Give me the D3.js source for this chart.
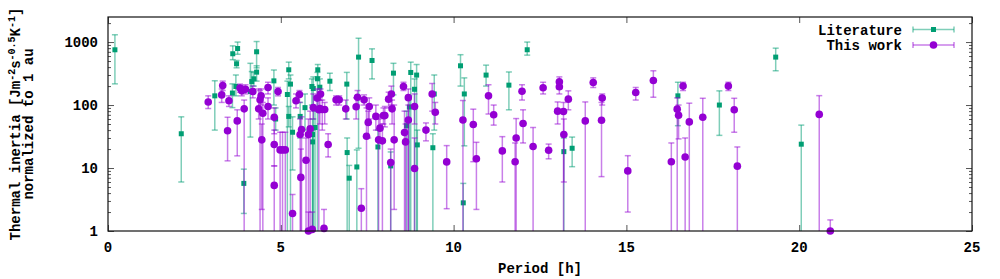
<!DOCTYPE html>
<html>
<head>
<meta charset="utf-8">
<script src="https://cdn.jsdelivr.net/npm/d3@7"></script>
<style>
  body { margin: 0; background: #fff; }
  text { font-family: "Liberation Mono", "DejaVu Sans Mono", monospace; font-weight: bold; fill: #000; }
</style>
</head>
<body>
<div id="chart"></div>
<script>
// rows: [period h, thermal inertia, lower error, upper error]
var literature = [
  [0.2, 754, 217, 1306], [2.12, 35, 6, 65], [3.09, 140, 40, 243], [3.61, 652, 525, 870],
  [3.75, 790, 640, 1000], [3.72, 452, 390, 510], [3.60, 155, 91, 217], [3.70, 197, 140, 300],
  [3.93, 5.7, 1.9, 9.6], [4.12, 164, 31, 460], [4.16, 236, 175, 340], [4.22, 261, 200, 330],
  [4.30, 333, 240, 420], [4.30, 701, 390, 1020], [4.80, 242, 100, 360], [4.85, 60, 40, 90],
  [5.23, 363, 260, 480], [5.19, 147, 0.5, 240], [5.28, 215, 0.5, 300], [5.23, 66, 45, 95],
  [5.34, 37, 9.3, 65], [5.56, 66, 30, 110], [5.70, 91, 40, 150], [5.90, 197, 100, 260],
  [5.94, 183, 0.5, 280], [6.07, 363, 280, 440], [6.06, 261, 0.5, 330], [6.13, 192, 140, 260],
  [5.99, 44, 0.5, 80], [5.92, 34, 0.5, 60], [5.92, 26, 0.5, 40], [6.42, 239, 170, 320],
  [6.91, 215, 60, 330], [6.92, 17.6, 0.5, 30], [6.98, 6.9, 0.5, 11], [7.25, 577, 20.6, 1150],
  [7.20, 10.4, 0.5, 19.4], [7.64, 510, 260, 780], [7.81, 21.6, 0.5, 40], [8.26, 321, 145, 460],
  [8.18, 10.8, 0.5, 18], [8.76, 329, 0.5, 480], [8.93, 299, 0.5, 440], [8.87, 178, 0.5, 260],
  [8.72, 93, 0.5, 140], [8.64, 47, 0.5, 80], [8.95, 23.3, 0.5, 40], [9.40, 21, 0.5, 35],
  [9.44, 150, 40, 300], [10.2, 420, 200, 630], [10.31, 150, 22.5, 270], [10.28, 2.8, 0.5, 5.7],
  [10.94, 299, 200, 430], [11.60, 207, 84, 335], [12.13, 755, 620, 1000], [13.19, 18.2, 0.5, 30],
  [13.43, 20.6, 10.5, 31], [16.49, 140, 47, 230], [17.69, 100, 33, 168], [19.32, 577, 350, 800],
  [20.06, 23.9, 0.5, 48]
];

var thisWork = [
  [2.90, 112, 88, 140], [3.29, 145, 110, 180], [3.32, 204, 170, 240], [3.46, 39, 13, 64],
  [3.50, 117, 95, 140], [3.74, 56, 15.6, 84], [3.82, 186, 160, 215], [3.87, 168, 140, 200],
  [3.98, 178, 150, 210], [3.94, 87, 0.5, 120], [4.19, 164, 130, 200], [4.36, 87, 60, 180],
  [4.40, 121, 0.5, 170], [4.43, 140, 100, 180], [4.45, 28, 2.2, 50], [4.48, 74, 0.5, 110],
  [4.63, 95, 60, 130], [4.63, 190, 150, 230], [4.81, 64, 35, 90], [4.81, 23.6, 10.8, 40],
  [4.81, 5.3, 0.5, 10.8], [4.92, 164, 140, 190], [4.98, 19.4, 0.5, 37], [5.05, 19.4, 0.5, 37],
  [5.13, 19.4, 0.5, 37], [5.44, 117, 90, 150], [5.54, 147, 110, 170], [5.34, 1.9, 0.5, 3.8],
  [5.56, 34, 0.5, 60], [5.60, 41, 0.5, 65], [5.58, 7.1, 0.5, 20], [5.73, 13.3, 0.5, 30],
  [5.80, 34, 0.5, 60], [5.85, 42, 0.5, 80], [5.80, 1.0, 0.5, 2], [5.91, 1.06, 0.5, 2],
  [5.94, 91, 60, 150], [6.05, 129, 80, 180], [6.10, 84, 0.5, 120], [6.15, 150, 120, 180],
  [6.13, 88, 50, 130], [6.20, 85, 40, 120], [6.27, 85, 50, 110], [6.25, 1.1, 0.5, 2.2],
  [6.37, 23.6, 15, 35], [6.60, 121, 100, 140], [6.69, 121, 100, 140], [6.88, 87, 60, 120],
  [7.18, 94, 60, 130], [7.22, 133, 100, 170], [7.41, 121, 100, 145], [7.33, 2.3, 0.5, 4.7],
  [7.48, 32, 0.5, 90], [7.53, 53, 30, 80], [7.56, 95, 60, 130], [7.75, 66, 40, 100],
  [7.87, 43, 25, 70], [7.83, 28, 0.5, 60], [7.94, 27, 0.5, 50], [7.97, 68, 50, 90],
  [8.01, 68, 45, 95], [8.12, 124, 90, 160], [8.20, 150, 100, 200], [8.22, 87, 50, 120],
  [8.18, 12.2, 0.5, 20], [8.28, 28, 2.2, 100], [8.55, 197, 170, 230], [8.69, 131, 0.5, 180],
  [8.69, 58, 0.5, 100], [8.58, 36.6, 0.5, 80], [8.61, 26, 0.5, 50], [8.87, 95, 50, 150],
  [8.87, 9.8, 0.5, 30], [9.38, 150, 80, 220], [9.47, 77, 50, 110], [9.80, 12.5, 2.26, 22.7],
  [9.20, 40, 27, 52], [10.27, 58, 0.5, 118], [10.57, 49, 12.6, 86], [10.66, 14, 2.2, 25.6],
  [11.01, 140, 72, 210], [11.16, 70, 48, 100], [11.41, 18.7, 6, 31.5], [11.81, 30, 0.5, 61],
  [11.78, 12.6, 0.5, 25], [11.98, 166, 120, 210], [12.01, 51, 25, 84], [12.30, 22, 0.5, 44],
  [12.59, 188, 150, 230], [12.75, 19.2, 14, 24], [13.06, 234, 180, 280], [13.06, 195, 150, 240],
  [13.01, 80, 50, 112], [13.18, 79, 0.5, 110], [13.19, 34, 6, 60], [13.32, 124, 84, 168],
  [13.81, 56, 0.5, 112], [14.04, 228, 190, 270], [14.30, 129, 100, 150], [14.28, 57.5, 7.3, 110],
  [15.04, 9, 2, 15.7], [15.27, 158, 120, 190], [15.78, 245, 133, 350], [16.30, 12.6, 0.5, 25],
  [16.47, 86, 0.5, 130], [16.51, 69, 29, 100], [16.64, 200, 170, 230], [16.70, 15, 0.5, 30],
  [16.82, 54, 0.5, 107], [17.21, 64, 0.5, 128], [17.95, 200, 170, 230], [18.12, 84, 37, 128],
  [18.21, 10.7, 0.5, 21.6], [20.58, 71, 0.5, 141], [20.9, 1.0, 0.5, 1.5]
];

var xTicks = [0, 5, 10, 15, 20, 25]
var yTicks = [1, 10, 100, 1000]
var seriesNames = ['Literature', 'This work']
var seriesColors = ['#009e73', '#9400d3']

var width = 1000, height = 279
var margin = {top: 17, right: 28, bottom: 48, left: 108}

var svg = d3.select('#chart')
  .append('svg')
  .attr('width', width)
  .attr('height', height)

var xScale = d3.scaleLinear()
  .domain([0, 25])
  .range([margin.left, width - margin.right])

var yScale = d3.scaleLog()
  .domain([1, 2500])
  .range([height - margin.bottom, margin.top])

svg.append('clipPath')
  .attr('id', 'plot-clip')
  .append('rect')
  .attr('x', margin.left)
  .attr('y', margin.top)
  .attr('width', width - margin.left - margin.right)
  .attr('height', height - margin.top - margin.bottom)

// minor log ticks 2..9 in each decade
var minorTicks = []
yTicks.forEach(function(t) {
  for (var k = 2; k <= 9; k++) {
    if (t * k <= 2500) minorTicks.push(t * k)
  }
})

// Y axes, ticks pointing inward on both sides
var yLeft = d3.axisRight(yScale).tickValues(yTicks).tickSize(6).tickFormat('')
var yLeftMinor = d3.axisRight(yScale).tickValues(minorTicks).tickSize(3).tickFormat('')
var yRight = d3.axisLeft(yScale).tickValues(yTicks).tickSize(6).tickFormat('')
var yRightMinor = d3.axisLeft(yScale).tickValues(minorTicks).tickSize(3).tickFormat('')

;[[yLeft, margin.left], [yLeftMinor, margin.left], [yRight, width - margin.right], [yRightMinor, width - margin.right]]
  .forEach(function(a) {
    svg.append('g')
      .attr('class', 'y-axis')
      .attr('transform', `translate(${a[1]},0)`)
      .call(a[0])
      .call(g => g.select('.domain').remove())
      .selectAll('line').attr('stroke', '#555')
  })

var xBottom = d3.axisTop(xScale).tickValues(xTicks).tickSize(6).tickFormat('')
var xTop = d3.axisBottom(xScale).tickValues(xTicks).tickSize(6).tickFormat('')

svg.append('g')
  .attr('transform', `translate(0,${height - margin.bottom})`)
  .call(xBottom)
  .call(g => g.select('.domain').remove())
  .selectAll('line').attr('stroke', '#555')

svg.append('g')
  .attr('transform', `translate(0,${margin.top})`)
  .call(xTop)
  .call(g => g.select('.domain').remove())
  .selectAll('line').attr('stroke', '#555')

// tick labels
svg.selectAll('.x-label-tick')
  .data(xTicks)
  .enter()
  .append('text')
  .attr('class', 'x-label-tick')
  .attr('x', d => xScale(d))
  .attr('y', height - margin.bottom + 21)
  .attr('text-anchor', 'middle')
  .style('font-size', '14px')
  .text(d => d)

svg.selectAll('.y-label-tick')
  .data(yTicks)
  .enter()
  .append('text')
  .attr('class', 'y-label-tick')
  .attr('x', margin.left - 10)
  .attr('y', d => yScale(d) + 5)
  .attr('text-anchor', 'end')
  .style('font-size', '14px')
  .text(d => d)

// error bars + points
function drawSeries(data, color, shape) {
  var g = svg.append('g')
  var bars = g.append('g').attr('clip-path', 'url(#plot-clip)')
  bars.selectAll('line.bar')
    .data(data)
    .enter()
    .append('line')
    .attr('class', 'bar')
    .attr('x1', d => xScale(d[0]))
    .attr('x2', d => xScale(d[0]))
    .attr('y1', d => yScale(Math.max(d[2], 0.5)))
    .attr('y2', d => yScale(d[3]))
    .attr('stroke', color)
    .attr('stroke-opacity', 0.5)
    .attr('stroke-width', 1.5)

  ;[2, 3].forEach(function(i) {
    bars.selectAll('line.cap' + i)
      .data(data.filter(d => d[i] >= 1))
      .enter()
      .append('line')
      .attr('class', 'cap' + i)
      .attr('x1', d => xScale(d[0]) - 3)
      .attr('x2', d => xScale(d[0]) + 3)
      .attr('y1', d => yScale(d[i]))
      .attr('y2', d => yScale(d[i]))
      .attr('stroke', color)
      .attr('stroke-opacity', 0.5)
      .attr('stroke-width', 1.5)
  })

  if (shape === 'square') {
    g.selectAll('rect.pt')
      .data(data)
      .enter()
      .append('rect')
      .attr('class', 'pt')
      .attr('x', d => xScale(d[0]) - 2.5)
      .attr('y', d => yScale(d[1]) - 2.5)
      .attr('width', 5)
      .attr('height', 5)
      .attr('fill', color)
  } else {
    g.selectAll('circle.pt')
      .data(data)
      .enter()
      .append('circle')
      .attr('class', 'pt')
      .attr('cx', d => xScale(d[0]))
      .attr('cy', d => yScale(d[1]))
      .attr('r', 3.8)
      .attr('fill', color)
  }
}

drawSeries(literature, seriesColors[0], 'square')
drawSeries(thisWork, seriesColors[1], 'circle')

// border
svg.append('rect')
  .attr('x', margin.left)
  .attr('y', margin.top)
  .attr('width', width - margin.left - margin.right)
  .attr('height', height - margin.top - margin.bottom)
  .attr('fill', 'none')
  .attr('stroke', '#111')
  .attr('stroke-width', 1.2)

// legend
var legend = svg.append('g').attr('class', 'legend')
seriesNames.forEach(function(name, i) {
  var ly = 29.5 + i * 15.5
  var col = seriesColors[i]
  legend.append('text')
    .attr('x', 902)
    .attr('y', ly + 5)
    .attr('text-anchor', 'end')
    .style('font-size', '14px')
    .text(name)
  legend.append('line')
    .attr('x1', 913).attr('x2', 954).attr('y1', ly).attr('y2', ly)
    .attr('stroke', col).attr('stroke-opacity', 0.5).attr('stroke-width', 1.5)
  ;[913, 954].forEach(function(cx) {
    legend.append('line')
      .attr('x1', cx).attr('x2', cx).attr('y1', ly - 3).attr('y2', ly + 3)
      .attr('stroke', col).attr('stroke-opacity', 0.5).attr('stroke-width', 1.5)
  })
  if (i === 0) {
    legend.append('rect').attr('x', 931).attr('y', ly - 2.5).attr('width', 5).attr('height', 5).attr('fill', col)
  } else {
    legend.append('circle').attr('cx', 933.5).attr('cy', ly).attr('r', 3.8).attr('fill', col)
  }
})

// axis titles
svg.append('text')
  .attr('x', (margin.left + width - margin.right) / 2)
  .attr('y', 273)
  .attr('text-anchor', 'middle')
  .style('font-size', '14px')
  .text('Period [h]')

var yc = (margin.top + height - margin.bottom) / 2
var yLab = svg.append('text')
  .attr('transform', `translate(20,${yc}) rotate(-90)`)
  .attr('text-anchor', 'middle')
  .style('font-size', '14px')
yLab.append('tspan').text('Thermal inertia [Jm')
yLab.append('tspan').attr('dy', -5).style('font-size', '10px').text('-2')
yLab.append('tspan').attr('dy', 5).text('s')
yLab.append('tspan').attr('dy', -5).style('font-size', '10px').text('-0.5')
yLab.append('tspan').attr('dy', 5).text('K')
yLab.append('tspan').attr('dy', -5).style('font-size', '10px').text('-1')
yLab.append('tspan').attr('dy', 5).text(']')

svg.append('text')
  .attr('transform', `translate(33,${yc}) rotate(-90)`)
  .attr('text-anchor', 'middle')
  .style('font-size', '14px')
  .text('normalized to 1 au')
</script>
</body>
</html>
